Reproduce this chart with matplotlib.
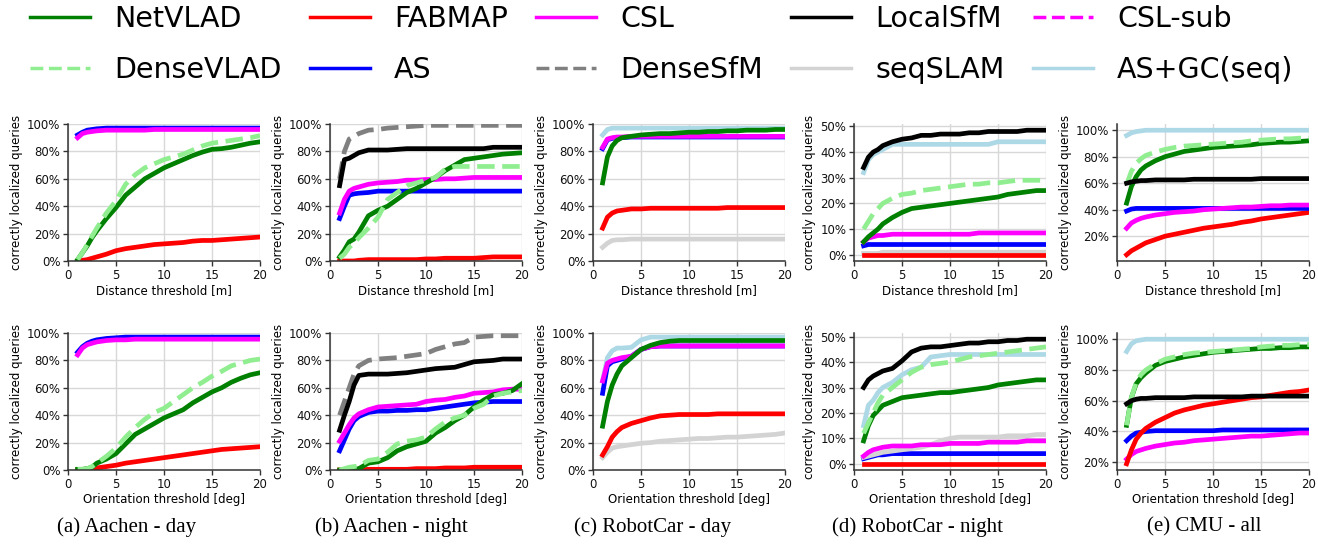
import matplotlib
matplotlib.use('Agg')
import matplotlib.pyplot as plt
from matplotlib.lines import Line2D
from matplotlib.ticker import PercentFormatter

# thresholds (same grid read for every panel)
X = [1, 1.5, 2, 2.5, 3, 4, 5, 6, 7, 8, 9, 10, 11, 12, 13, 14, 15, 16, 17, 18, 19, 20]

# ---- (a) Aachen - day, distance ----
a_d_as = [92, 94, 95.5, 96, 96.5, 97, 97, 97, 97, 97, 97, 97, 97, 97, 97, 97, 97, 97, 97, 97, 97, 97]
a_d_csl = [90, 93, 94, 94.5, 95, 95.5, 95.5, 95.5, 95.5, 95.5, 96, 96, 96, 96, 96, 96, 96, 96, 96, 96, 96, 96]
a_d_netvlad = [1, 6, 11, 17, 22, 31, 39, 48, 54, 60, 64, 68, 71, 74, 77, 79.5, 81.5, 82, 83, 84.5, 86, 87]
a_d_densevlad = [1, 6, 12, 18, 24, 35, 44, 56, 63, 68, 71, 74, 76, 78, 81, 84, 86, 87, 88, 89, 90, 91.5]
a_d_fabmap = [0, 0.5, 1, 2, 3, 5, 7.5, 9, 10, 11, 12, 12.5, 13, 13.5, 14.5, 15, 15, 15.5, 16, 16.5, 17, 17.5]

# ---- (b) Aachen - night, distance ----
b_d_densesfm = [60, 80, 89, 91, 93, 95.5, 96, 97, 97.5, 98, 98.5, 99, 99, 99, 99, 99, 99, 99, 99, 99, 99, 99]
b_d_localsfm = [55, 74, 75, 77, 79, 81, 81, 81, 81.5, 82, 82, 82, 82, 82, 82, 82, 82, 82, 83, 83, 83, 83]
b_d_csl = [35, 45, 51, 53, 54, 56, 57, 57.5, 58, 59, 59, 59.5, 59.5, 60, 60, 60.5, 61, 61, 61, 61, 61, 61]
b_d_as = [31, 40, 48, 49, 49.5, 50, 51, 51, 51, 51, 51, 51, 51, 51, 51, 51, 51, 51, 51, 51, 51, 51]
b_d_netvlad = [3, 8, 14, 16, 21, 33, 37, 40, 45, 50, 53, 57, 61, 66, 70, 74, 75, 76, 77, 78, 78.5, 79]
b_d_densevlad = [2, 5, 10, 13, 17, 24, 32, 45, 50, 55, 57, 59, 61, 67, 69, 69, 69, 69, 69, 69, 69, 69]
b_d_fabmap = [0, 0, 0, 0, 0.5, 1, 1, 1, 1, 1, 1, 1.5, 1.5, 2, 2, 2, 2, 2.5, 3, 3, 3, 3]

# ---- (c) RobotCar - day, distance ----
c_d_asgc = [92, 96, 97, 97, 97, 97, 97, 97, 97, 97, 97, 97, 97, 97, 97, 97, 97, 97, 97, 97, 97, 97]
c_d_netvlad = [57, 76, 84, 88, 90, 91, 92, 92.5, 93, 93, 93.5, 94, 94, 94.5, 94.5, 95, 95, 95.5, 95.5, 95.5, 96, 96]
c_d_csl = [83, 89, 90, 90.5, 90.5, 91, 91, 91, 91, 91, 91, 91, 91, 91, 91, 91, 91, 91, 91, 91, 91, 91]
c_d_as = [82, 88.5, 89.5, 90, 90, 90.5, 90.5, 90.5, 90.5, 90.5, 90.5, 90.5, 90.5, 90.5, 90.5, 90.5, 90.5, 90.5, 90.5, 90.5, 90.5, 90.5]
c_d_fabmap = [24, 32, 35, 36.5, 37, 38, 38, 38.5, 38.5, 38.5, 38.5, 38.5, 38.5, 38.5, 38.5, 39, 39, 39, 39, 39, 39, 39]
c_d_seqslam = [10, 13, 15, 15.5, 15.5, 16, 16, 16, 16, 16, 16, 16, 16, 16, 16, 16, 16, 16, 16, 16, 16, 16]

# ---- (d) RobotCar - night, distance ----
d_d_localsfm = [34, 38, 40, 41, 42.5, 44, 45, 45.5, 46.5, 46.5, 47, 47, 47, 47.5, 47.5, 48, 48, 48, 48, 48.5, 48.5, 48.5]
d_d_asgc = [32, 37, 39, 40, 41, 43, 43, 43, 43, 43, 43, 43, 43, 43, 43, 43, 44, 44, 44, 44, 44, 44]
d_d_densevlad = [10, 13, 16, 18, 20, 22, 23.5, 24, 25, 25.5, 26, 26.5, 27, 27.5, 27.5, 28, 28, 28.5, 29, 29, 29, 29]
d_d_netvlad = [5, 7, 8.5, 10, 12, 14.5, 16.5, 18, 18.5, 19, 19.5, 20, 20.5, 21, 21.5, 22, 22.5, 23.5, 24, 24.5, 25, 25]
d_d_csl = [5, 6.5, 7, 7.5, 7.5, 8, 8, 8, 8, 8, 8, 8, 8, 8, 8.5, 8.5, 8.5, 8.5, 8.5, 8.5, 8.5, 8.5]
d_d_as = [3.5, 4, 4, 4, 4, 4, 4, 4, 4, 4, 4, 4, 4, 4, 4, 4, 4, 4, 4, 4, 4, 4]
d_d_seqslam = [0.5, 0.5, 0.5, 0.5, 1, 1, 1, 1, 1, 1, 1, 1, 1, 1, 1, 1, 1, 1, 1, 1, 1, 1]
d_d_fabmap = [0, 0, 0, 0, 0, 0, 0, 0, 0, 0, 0, 0, 0, 0, 0, 0, 0, 0, 0, 0, 0, 0]

# ---- (e) CMU - all, distance ----
e_d_asgc = [96, 98, 99, 99.5, 100, 100, 100, 100, 100, 100, 100, 100, 100, 100, 100, 100, 100, 100, 100, 100, 100, 100]
e_d_densevlad = [59, 69, 75, 78.5, 81, 83.5, 85.5, 87, 88, 88.5, 89, 89.5, 90, 90.5, 91, 92, 92.5, 93, 93.5, 93.5, 94, 94]
e_d_netvlad = [45, 57.5, 65, 70, 73, 77, 80, 82, 84, 85, 86, 87, 87.5, 88, 88.5, 89, 90, 90.5, 91, 91, 91.5, 92]
e_d_localsfm = [60, 61, 61.5, 62, 62, 62.5, 62.5, 62.5, 62.5, 63, 63, 63, 63, 63, 63, 63, 63.5, 63.5, 63.5, 63.5, 63.5, 63.5]
e_d_as = [39, 40.5, 41, 41, 41, 41, 41, 41, 41, 41, 41, 41, 41, 41, 41, 41, 41, 41, 41, 41, 41, 41]
e_d_csl = [26, 30, 32, 33.5, 34.5, 36, 37, 38, 38.5, 39, 40, 40.5, 41, 41.5, 42, 42, 42.5, 43, 43, 43.5, 43.5, 43.5]
e_d_fabmap = [6, 9, 11, 13, 15, 17.5, 20, 21.5, 23, 24.5, 26, 27, 28, 29, 30.5, 31.5, 33, 34, 35, 36, 37, 38]

# ---- (a) Aachen - day, orientation ----
a_o_as = [86, 90, 92.5, 94, 95, 96, 96.5, 97, 97, 97, 97, 97, 97, 97, 97, 97, 97, 97, 97, 97, 97, 97]
a_o_csl = [84, 89, 91.5, 92.5, 93.5, 94.5, 95, 95, 95.5, 95.5, 95.5, 95.5, 95.5, 95.5, 95.5, 95.5, 95.5, 95.5, 95.5, 95.5, 95.5, 95.5]
a_o_netvlad = [0.5, 0.5, 1, 2, 5, 8, 12, 19, 26, 30, 34, 38, 41, 44, 49, 53, 57, 60, 64, 67, 69.5, 71]
a_o_densevlad = [0.5, 0.5, 1, 2.5, 5, 10, 16, 24, 31, 37, 42, 45, 50, 55, 60, 64, 68.5, 72, 76, 78, 80, 81]
a_o_fabmap = [0, 0, 0.5, 1, 1.5, 2.5, 3.5, 5, 6, 7, 8, 9, 10, 11, 12, 13, 14, 15, 15.5, 16, 16.5, 17]

# ---- (b) Aachen - night, orientation ----
b_o_densesfm = [40, 50, 60, 70, 76, 80, 81, 81.5, 82, 83, 84, 85, 88, 90, 92, 93, 97, 97.5, 98, 98, 98, 98]
b_o_localsfm = [29, 40, 50, 62, 69, 70, 70, 70, 70.5, 71, 72, 73, 74, 74.5, 75, 77, 79, 79.5, 80, 81, 81, 81]
b_o_csl = [21, 27, 33, 38, 41, 44, 46, 46.5, 47, 47.5, 48, 50, 51, 51.5, 53, 54, 56, 56.5, 57, 58.5, 59, 59]
b_o_as = [14, 22, 30, 36, 39, 42, 43, 43, 43.5, 43.5, 44, 44, 45, 46, 47, 48, 49, 49.5, 50, 50, 50, 50]
b_o_netvlad = [0, 0, 0, 0.5, 1, 5, 6, 9, 14, 17, 19, 21, 27, 31, 36, 40, 46, 51, 55, 56, 58, 63]
b_o_densevlad = [0, 1, 2, 2.5, 3, 7, 8, 13, 19, 21, 22, 24, 30, 35, 38, 40, 45, 48, 54, 56, 57, 58]
b_o_fabmap = [0, 0, 0, 0, 0, 0.5, 0.5, 0.5, 0.5, 0.5, 1, 1, 1, 1.5, 1.5, 1.5, 2, 2, 2, 2, 2, 2]

# ---- (c) RobotCar - day, orientation ----
c_o_asgc = [65, 82, 87, 89, 89, 89.5, 95, 97, 97, 97, 97, 97, 97, 97, 97, 97, 97, 97, 97, 97, 97, 97]
c_o_netvlad = [32, 50, 62, 70, 76, 82, 88, 91, 93, 94, 94.5, 94.5, 94.5, 94.5, 94.5, 94.5, 94.5, 94.5, 94.5, 94.5, 94.5, 94.5]
c_o_csl = [65, 78, 80, 81, 82, 83, 88, 90, 90.5, 90.5, 90.5, 90.5, 90.5, 90.5, 90.5, 90.5, 90.5, 90.5, 90.5, 90.5, 90.5, 90.5]
c_o_as = [56, 76, 79, 80, 81, 83, 88, 90, 90.5, 90.5, 90.5, 90.5, 90.5, 90.5, 90.5, 90.5, 90.5, 90.5, 90.5, 90.5, 90.5, 90.5]
c_o_fabmap = [11, 17, 24, 28, 31, 34, 36, 38, 39.5, 40, 40.5, 40.5, 40.5, 40.5, 41, 41, 41, 41, 41, 41, 41, 41]
c_o_seqslam = [9, 13, 16, 17, 17.5, 18.5, 19.5, 20, 21, 21.5, 22, 22.5, 23, 23, 23.5, 24, 24, 24.5, 25, 25.5, 26, 27]

# ---- (d) RobotCar - night, orientation ----
d_o_localsfm = [30, 33, 34.5, 35.5, 36.5, 37.5, 40.5, 44, 45.5, 46, 46, 46.5, 47, 47.5, 47.5, 48, 48, 48.5, 48.5, 49, 49, 49]
d_o_asgc = [15, 23, 25, 28, 30, 32, 35, 37, 38, 42, 42.5, 43, 43, 43, 43, 43, 43, 43, 43, 43, 43, 43]
d_o_densevlad = [12, 16, 20, 24, 27, 30, 33, 36, 38, 39, 39.5, 40, 41, 42, 42.5, 43, 43.5, 44, 44.5, 45, 45.5, 46]
d_o_netvlad = [9, 15, 19, 21, 23, 24.5, 26, 26.5, 27, 27.5, 28, 28, 28.5, 29, 29.5, 30, 31, 31.5, 32, 32.5, 33, 33]
d_o_seqslam = [2.5, 3, 3.5, 4, 4.5, 5, 5.5, 6, 6.5, 7.5, 9, 10, 10.5, 10.5, 10.5, 10.5, 10.5, 11, 11, 11, 11.5, 11.5]
d_o_csl = [3, 4.5, 5.5, 6, 6.5, 7, 7, 7, 7.5, 7.5, 7.5, 8, 8, 8, 8, 8.5, 8.5, 8.5, 8.5, 9, 9, 9]
d_o_as = [2, 2.5, 3, 3.5, 3.5, 4, 4, 4, 4, 4, 4, 4, 4, 4, 4, 4, 4, 4, 4, 4, 4, 4]
d_o_fabmap = [0, 0, 0, 0, 0, 0, 0, 0, 0, 0, 0, 0, 0, 0, 0, 0, 0, 0, 0, 0, 0, 0]

# ---- (e) CMU - all, orientation ----
e_o_asgc = [92, 97, 99, 99.5, 100, 100, 100, 100, 100, 100, 100, 100, 100, 100, 100, 100, 100, 100, 100, 100, 100, 100]
e_o_densevlad = [44, 62, 72, 77, 80, 84, 87, 88.5, 90, 91, 91.5, 92, 92.5, 93, 93.5, 94, 95, 95.5, 96, 96, 96.5, 96.5]
e_o_netvlad = [44, 62, 71, 75, 78, 83, 85.5, 87, 88.5, 89.5, 90.5, 91.5, 92, 92.5, 93, 93.5, 94, 94, 94.5, 94.5, 95, 95]
e_o_localsfm = [58, 60, 61, 61.5, 61.5, 62, 62, 62, 62, 62.5, 62.5, 62.5, 62.5, 62.5, 62.5, 63, 63, 63, 63, 63, 63, 63]
e_o_fabmap = [19, 28, 35, 39, 42, 46, 49, 52, 54, 55.5, 57, 58, 59, 60, 61, 62, 62.5, 63.5, 64.5, 65.5, 66, 67]
e_o_as = [34, 37, 39, 39.5, 40, 40.5, 40.5, 40.5, 40.5, 40.5, 40.5, 40.5, 41, 41, 41, 41, 41, 41, 41, 41, 41, 41]
e_o_csl = [22, 25, 27, 28, 29, 30.5, 31.5, 32.5, 33, 34, 34.5, 35, 35.5, 36, 36.5, 37, 37, 37.5, 38, 38.5, 39, 39]

captions = ['(a) Aachen - day', '(b) Aachen - night', '(c) RobotCar - day',
            '(d) RobotCar - night', '(e) CMU - all']

# y ticks per panel column (None -> 0..100 fixed)
yticks_top = [None, None, None, [0, 10, 20, 30, 40, 50], [20, 40, 60, 80, 100]]
yticks_bot = [None, None, None, [0, 10, 20, 30, 40, 50], [20, 40, 60, 80, 100]]

# method -> (colour, linestyle)
styles = {
    'NetVLAD': ('green', '-'),
    'DenseVLAD': ('lightgreen', '--'),
    'FABMAP': ('red', '-'),
    'AS': ('blue', '-'),
    'CSL': ('magenta', '-'),
    'DenseSfM': ('gray', '--'),
    'LocalSfM': ('black', '-'),
    'seqSLAM': ('lightgray', '-'),
    'CSL-sub': ('magenta', '--'),
    'AS+GC(seq)': ('lightblue', '-'),
}

top = [
    [('AS', a_d_as), ('CSL', a_d_csl), ('FABMAP', a_d_fabmap), ('NetVLAD', a_d_netvlad), ('DenseVLAD', a_d_densevlad)],
    [('FABMAP', b_d_fabmap), ('AS', b_d_as), ('CSL', b_d_csl), ('NetVLAD', b_d_netvlad), ('DenseVLAD', b_d_densevlad),
     ('DenseSfM', b_d_densesfm), ('LocalSfM', b_d_localsfm)],
    [('AS+GC(seq)', c_d_asgc), ('seqSLAM', c_d_seqslam), ('FABMAP', c_d_fabmap), ('AS', c_d_as), ('CSL', c_d_csl),
     ('NetVLAD', c_d_netvlad)],
    [('AS+GC(seq)', d_d_asgc), ('seqSLAM', d_d_seqslam), ('FABMAP', d_d_fabmap), ('AS', d_d_as), ('CSL', d_d_csl),
     ('NetVLAD', d_d_netvlad), ('DenseVLAD', d_d_densevlad), ('LocalSfM', d_d_localsfm)],
    [('AS+GC(seq)', e_d_asgc), ('FABMAP', e_d_fabmap), ('AS', e_d_as), ('CSL', e_d_csl), ('NetVLAD', e_d_netvlad),
     ('DenseVLAD', e_d_densevlad), ('LocalSfM', e_d_localsfm)],
]
bottom = [
    [('AS', a_o_as), ('CSL', a_o_csl), ('FABMAP', a_o_fabmap), ('NetVLAD', a_o_netvlad), ('DenseVLAD', a_o_densevlad)],
    [('FABMAP', b_o_fabmap), ('AS', b_o_as), ('CSL', b_o_csl), ('NetVLAD', b_o_netvlad), ('DenseVLAD', b_o_densevlad),
     ('DenseSfM', b_o_densesfm), ('LocalSfM', b_o_localsfm)],
    [('AS+GC(seq)', c_o_asgc), ('seqSLAM', c_o_seqslam), ('FABMAP', c_o_fabmap), ('AS', c_o_as), ('CSL', c_o_csl),
     ('NetVLAD', c_o_netvlad)],
    [('AS+GC(seq)', d_o_asgc), ('FABMAP', d_o_fabmap), ('AS', d_o_as), ('seqSLAM', d_o_seqslam), ('CSL', d_o_csl),
     ('NetVLAD', d_o_netvlad), ('DenseVLAD', d_o_densevlad), ('LocalSfM', d_o_localsfm)],
    [('AS+GC(seq)', e_o_asgc), ('AS', e_o_as), ('CSL', e_o_csl), ('FABMAP', e_o_fabmap), ('NetVLAD', e_o_netvlad),
     ('DenseVLAD', e_o_densevlad), ('LocalSfM', e_o_localsfm)],
]

plt.rcParams['font.size'] = 8.5
plt.rcParams['font.family'] = 'DejaVu Sans'

fig = plt.figure(figsize=(13.18, 5.44), dpi=100)

W = 1318.
H = 544.
lefts = [68, 330, 593, 854, 1117]
cap_x = [127, 391, 653, 918, 1204]


def style_ax(ax):
    ax.grid(True, color='#d8d8d8', lw=1.0)
    ax.set_axisbelow(True)
    for s in ['top', 'right']:
        ax.spines[s].set_visible(False)
    for s in ['left', 'bottom']:
        ax.spines[s].set_color('#333333')
        ax.spines[s].set_linewidth(1.1)
    ax.tick_params(direction='out', length=3.5, width=1.0, color='#333333', labelcolor='#111111', pad=2)
    ax.yaxis.set_major_formatter(PercentFormatter(100, decimals=0))
    ax.set_xlim(0, 20)
    ax.set_xticks([0, 5, 10, 15, 20])


for i in range(5):
    for data, y0, xl, yt in [(top, 261, 'Distance threshold [m]', yticks_top[i]),
                             (bottom, 470, 'Orientation threshold [deg]', yticks_bot[i])]:
        ax = fig.add_axes([lefts[i] / W, 1 - y0 / H, 192 / W, 137 / H])
        for name, vals in data[i]:
            col, ls = styles[name]
            ax.plot(X, vals, color=col, ls=ls, lw=3.4)
        style_ax(ax)
        if yt is None:
            ax.set_ylim(0, 100)
        else:
            ax.set_yticks(yt)
        ax.set_ylabel('correctly localized queries', labelpad=3)
        ax.set_xlabel(xl, labelpad=2)
    fig.text(cap_x[i] / W, 1 - 527 / H, captions[i], ha='center', va='center',
             fontsize=15, family='Liberation Serif')

order = ['NetVLAD', 'DenseVLAD', 'FABMAP', 'AS', 'CSL', 'DenseSfM', 'LocalSfM', 'seqSLAM', 'CSL-sub', 'AS+GC(seq)']
handles = [Line2D([], [], color=styles[n][0], ls=styles[n][1], lw=2.5) for n in order]
fig.legend(handles, order, ncol=5, loc='upper left', bbox_to_anchor=(30 / W, 0.99),
           frameon=False, fontsize=20.5, columnspacing=1.0, handlelength=2.1,
           handletextpad=0.85, borderpad=0, borderaxespad=0, labelspacing=0.8)

fig.savefig('out.png', dpi=100)
